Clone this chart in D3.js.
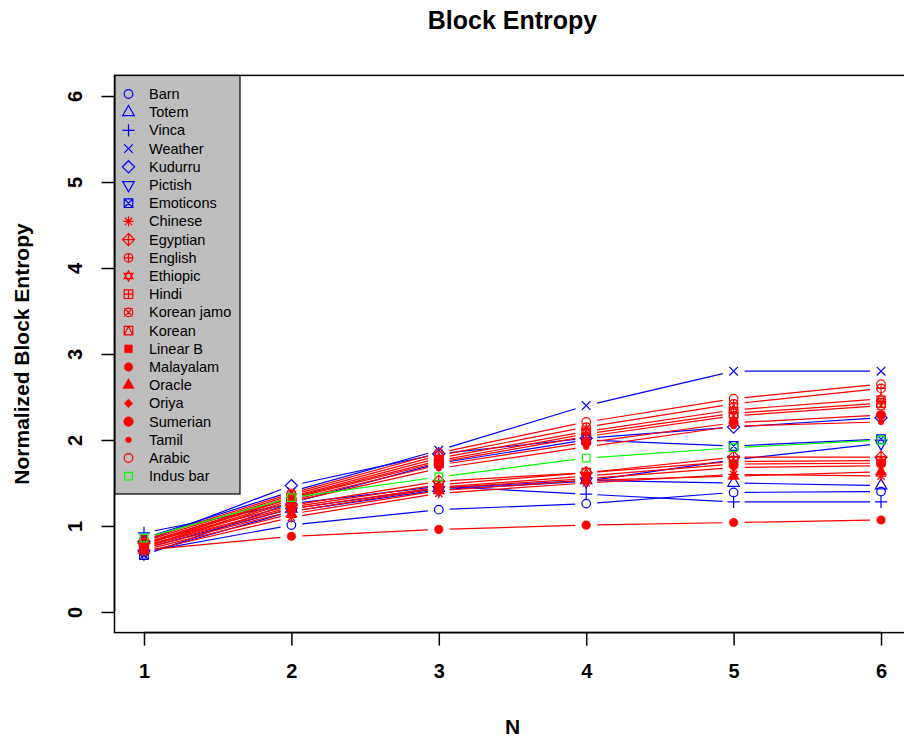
<!DOCTYPE html>
<html>
<head>
<meta charset="utf-8">
<script src="https://cdn.jsdelivr.net/npm/d3@7"></script>
<style>
  body { margin: 0; background: #fff; }
  text { font-family: "Liberation Sans", Arial, sans-serif; }
</style>
</head>
<body>
<div id="chart"></div>
<script>
// N values on the x axis
const nValues = [1, 2, 3, 4, 5, 6];
const yTicks = [0, 1, 2, 3, 4, 5, 6];

const seriesNames = ["Barn", "Totem", "Vinca", "Weather", "Kudurru", "Pictish", "Emoticons",
  "Chinese", "Egyptian", "English", "Ethiopic", "Hindi", "Korean jamo", "Korean", "Linear B",
  "Malayalam", "Oracle", "Oriya", "Sumerian", "Tamil", "Arabic", "Indus bar"];

// block entropy per series, N = 1..6
const barn       = [0.70, 1.01, 1.19, 1.26, 1.39, 1.40];
const totem      = [0.74, 1.20, 1.44, 1.53, 1.50, 1.47];
const vinca      = [0.92, 1.26, 1.46, 1.37, 1.28, 1.28];
const weather    = [0.86, 1.40, 1.88, 2.40, 2.80, 2.80];
const kudurru    = [0.82, 1.47, 1.84, 2.02, 2.15, 2.26];
const pictish    = [0.68, 1.17, 1.42, 1.52, 1.77, 1.96];
const emoticons  = [0.66, 1.27, 1.73, 2.00, 1.93, 2.01];
const chinese    = [0.70, 1.10, 1.38, 1.50, 1.60, 1.58];
const egyptian   = [0.80, 1.24, 1.52, 1.62, 1.80, 1.80];
const english    = [0.82, 1.36, 1.82, 2.15, 2.42, 2.60];
const ethiopic   = [0.80, 1.34, 1.79, 2.10, 2.35, 2.48];
const hindi      = [0.79, 1.33, 1.76, 2.07, 2.31, 2.43];
const koreanJamo = [0.78, 1.32, 1.74, 2.04, 2.28, 2.40];
const korean     = [0.77, 1.22, 1.48, 1.62, 1.75, 1.76];
const linearB    = [0.76, 1.20, 1.45, 1.58, 1.72, 1.73];
const malayalam  = [0.72, 0.88, 0.96, 1.01, 1.04, 1.07];
const oracle     = [0.72, 1.14, 1.41, 1.53, 1.58, 1.63];
const oriya      = [0.74, 1.17, 1.44, 1.55, 1.68, 1.70];
const sumerian   = [0.76, 1.30, 1.71, 1.97, 2.20, 2.29];
const tamil      = [0.75, 1.28, 1.67, 1.92, 2.16, 2.21];
const arabic     = [0.84, 1.38, 1.85, 2.21, 2.48, 2.65];
const indusBar   = [0.86, 1.33, 1.57, 1.79, 1.91, 2.00];

const seriesValues = [barn, totem, vinca, weather, kudurru, pictish, emoticons,
  chinese, egyptian, english, ethiopic, hindi, koreanJamo, korean, linearB,
  malayalam, oracle, oriya, sumerian, tamil, arabic, indusBar];

// colour per series: 7 blue, 14 red, 1 green
const seriesColors = seriesNames.map((d, i) => i < 7 ? "#0000ff" : (i < 21 ? "#ff0000" : "#00ff00"));

const w = 904;
const h = 742;

const x = d3.scaleLinear().domain([0.8, 6.2]).range([114.5, 910.5]);
const y = d3.scaleLinear().domain([-0.24, 6.24]).range([632.6, 75.4]);

const svg = d3.select("#chart").append("svg")
  .attr("width", w)
  .attr("height", h);

// R style plotting symbols, pch = 1..22 (index + 1)
const R = 4.3;
function circ(r) {
  return `M${-r},0A${r},${r} 0 1,0 ${r},0A${r},${r} 0 1,0 ${-r},0Z`;
}
function sq(a) { return `M${-a},${-a}H${a}V${a}H${-a}Z`; }
function plus(a) { return `M${-a},0H${a}M0,${-a}V${a}`; }
function cross(a) { return `M${-a},${-a}L${a},${a}M${-a},${a}L${a},${-a}`; }
function diamond(a) { return `M0,${-a}L${a},0L0,${a}L${-a},0Z`; }
function triUp() {
  const r = 1.555 * R, xc = r * 0.866, yc = r * 0.5;
  return `M0,${-r}L${xc},${yc}L${-xc},${yc}Z`;
}
function triDown() {
  const r = 1.555 * R, xc = r * 0.866, yc = r * 0.5;
  return `M0,${r}L${xc},${-yc}L${-xc},${-yc}Z`;
}
function symbol(pch) {
  const s2 = R * Math.SQRT2;
  switch (pch) {
    case 1: return { d: circ(R) };
    case 2: return { d: triUp() };
    case 3: return { d: plus(s2) };
    case 4: return { d: cross(R) };
    case 5: return { d: diamond(s2) };
    case 6: return { d: triDown() };
    case 7: return { d: sq(R) + cross(R) };
    case 8: return { d: plus(s2 * 0.85) + cross(R * 0.85) };
    case 9: return { d: diamond(s2) + plus(s2) };
    case 10: return { d: circ(R) + plus(R) };
    case 11: return { d: `M0,${-1.2 * R}L${1.04 * R},${0.6 * R}L${-1.04 * R},${0.6 * R}Z M0,${1.2 * R}L${1.04 * R},${-0.6 * R}L${-1.04 * R},${-0.6 * R}Z` };
    case 12: return { d: sq(R) + plus(R) };
    case 13: return { d: circ(R) + cross(R) };
    case 14: return { d: sq(R) + `M${-R},${R}L0,${-R}L${R},${R}` };
    case 15: return { d: sq(R * 0.9), fill: true };
    case 16: return { d: circ(R), fill: true };
    case 17: return { d: triUp(), fill: true };
    case 18: return { d: diamond(R), fill: true };
    case 19: return { d: circ(R + 0.5), fill: true };
    case 20: return { d: circ(R * 0.667), fill: true };
    case 21: return { d: circ(R) };
    default: return { d: sq(R * 0.886) };
  }
}

function drawSymbol(g, pch, color, cx, cy) {
  const s = symbol(pch);
  g.append("path")
    .attr("d", s.d)
    .attr("transform", `translate(${cx},${cy})`)
    .attr("fill", s.fill ? color : "none")
    .attr("stroke", color)
    .attr("stroke-width", s.fill ? 0.5 : 1.2);
}

// plot area clip
svg.append("clipPath").attr("id", "plotClip")
  .append("rect")
  .attr("x", x.range()[0]).attr("y", y.range()[1])
  .attr("width", x.range()[1] - x.range()[0])
  .attr("height", y.range()[0] - y.range()[1]);

const plot = svg.append("g").attr("clip-path", "url(#plotClip)");

// type = "b": line segments with a gap round each point
const gap = 11;
seriesValues.forEach((vals, i) => {
  const color = seriesColors[i];
  const g = plot.append("g");
  for (let k = 0; k < vals.length - 1; k++) {
    const x1 = x(nValues[k]), y1 = y(vals[k]);
    const x2 = x(nValues[k + 1]), y2 = y(vals[k + 1]);
    const len = Math.hypot(x2 - x1, y2 - y1);
    const ux = (x2 - x1) / len, uy = (y2 - y1) / len;
    g.append("line")
      .attr("x1", x1 + ux * gap).attr("y1", y1 + uy * gap)
      .attr("x2", x2 - ux * gap).attr("y2", y2 - uy * gap)
      .attr("stroke", color)
      .attr("stroke-width", 1.2);
  }
  vals.forEach((v, k) => drawSymbol(g, i + 1, color, x(nValues[k]), y(v)));
});

// box
svg.append("rect")
  .attr("x", x.range()[0]).attr("y", y.range()[1])
  .attr("width", x.range()[1] - x.range()[0])
  .attr("height", y.range()[0] - y.range()[1])
  .attr("fill", "none")
  .attr("stroke", "#000")
  .attr("stroke-width", 1.5);

// axes
const xAxis = d3.axisBottom(x).tickValues(nValues).tickSize(13).tickPadding(18).tickFormat(d3.format("d"));
const gx = svg.append("g")
  .attr("transform", `translate(0,${y.range()[0]})`)
  .call(xAxis);
gx.select(".domain").attr("d", `M${x(1)},0H${x(6)}`).attr("stroke-width", 1.5);
gx.selectAll(".tick line").attr("stroke-width", 1.5);
gx.selectAll(".tick text")
  .attr("font-family", "Liberation Sans, Arial, sans-serif")
  .attr("font-size", 20).attr("font-weight", "bold").attr("fill", "#000");

const yAxis = d3.axisLeft(y).tickValues(yTicks).tickSize(13).tickFormat(d3.format("d"));
const gy = svg.append("g")
  .attr("transform", `translate(${x.range()[0]},0)`)
  .call(yAxis);
gy.select(".domain").attr("d", `M0,${y(0)}V${y(6)}`).attr("stroke-width", 1.5);
gy.selectAll(".tick line").attr("stroke-width", 1.5);
gy.selectAll(".tick text")
  .attr("x", null).attr("dy", null)
  .attr("transform", "translate(-40,0) rotate(-90)")
  .attr("text-anchor", "middle")
  .attr("dy", "0.36em")
  .attr("font-family", "Liberation Sans, Arial, sans-serif")
  .attr("font-size", 20).attr("font-weight", "bold").attr("fill", "#000");

// titles
svg.append("text")
  .attr("x", 512.5).attr("y", 29)
  .attr("text-anchor", "middle")
  .attr("font-size", 25).attr("font-weight", "bold")
  .text("Block Entropy");

svg.append("text")
  .attr("x", 512.5).attr("y", 734)
  .attr("text-anchor", "middle")
  .attr("font-size", 21).attr("font-weight", "bold")
  .text("N");

svg.append("text")
  .attr("transform", `translate(29,${(y.range()[0] + y.range()[1]) / 2}) rotate(-90)`)
  .attr("text-anchor", "middle")
  .attr("font-size", 21).attr("font-weight", "bold")
  .text("Normalized Block Entropy");

// legend
const legend = svg.append("g");
legend.append("rect")
  .attr("x", 115).attr("y", 75.5)
  .attr("width", 125).attr("height", 418.5)
  .attr("fill", "#bebebe")
  .attr("stroke", "#000")
  .attr("stroke-width", 1.2);

const rowH = 18.2;
seriesNames.forEach((name, i) => {
  const cy = 94 + i * rowH;
  drawSymbol(legend, i + 1, seriesColors[i], 128.5, cy);
  legend.append("text")
    .attr("x", 149).attr("y", cy + 5)
    .attr("font-size", 14.5)
    .attr("fill", "#000")
    .text(name);
});
</script>
</body>
</html>
